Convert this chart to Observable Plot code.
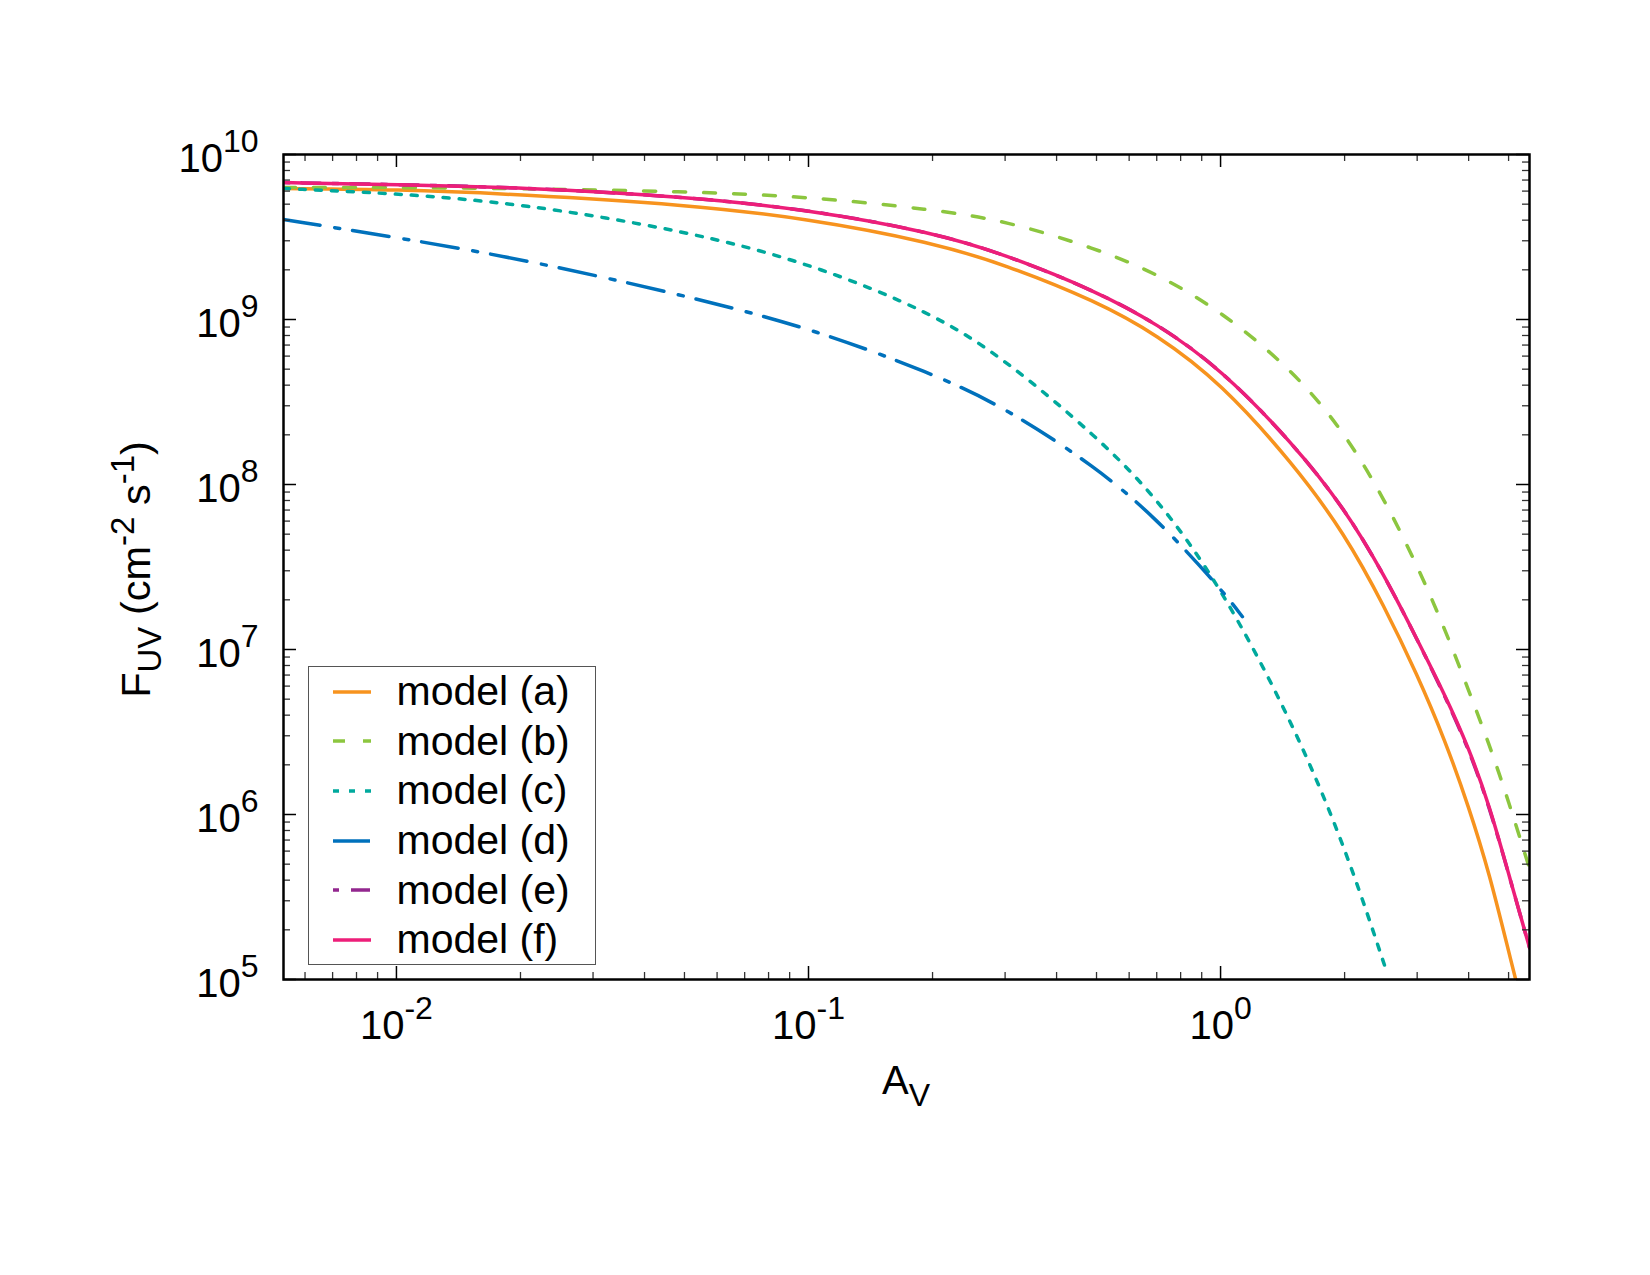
<!DOCTYPE html>
<html>
<head>
<meta charset="utf-8">
<script src="https://cdn.jsdelivr.net/npm/d3@7"></script>
<script src="https://cdn.jsdelivr.net/npm/@observablehq/plot@0.6"></script>
<style>
  html, body { margin: 0; padding: 0; background: #fff; }
  #wrap { position: relative; width: 1650px; height: 1275px;
          font-family: "Liberation Sans", Arial, Helvetica, sans-serif; }
  #legend { position: absolute; left: 308px; top: 666px; width: 288px; height: 299px;
            box-sizing: border-box; border: 1.5px solid #555; background: #fff; }
  #legend .row { display: flex; align-items: center; height: 49.6px; }
  #legend svg { margin-left: 23.5px; flex: none; }
  #legend span { margin-left: 26px; font-size: 41px; color: #000; white-space: pre; }
  text { white-space: pre; }
</style>
</head>
<body>
<div id="wrap"></div>
<script>
// Visual extinction A_V and UV flux F_UV (cm^-2 s^-1) for six models
const avA = [0.00532, 0.01, 0.02, 0.05, 0.1, 0.2, 0.3, 0.5, 0.7, 1.0, 1.5, 2.0, 2.5, 3.0, 3.5, 4.0, 4.5, 5.0, 5.62];
const fluxA = [6.22e9, 6.14e9, 5.73e9, 4.98e9, 4.09e9, 2.93e9, 2.15e9, 1.29e9, 8.11e8, 4.15e8, 1.34e8, 5.05e7, 1.82e7, 7.05e6, 2.85e6, 1.12e6, 4.33e5, 1.48e5, 4.64e4];

const avB = [0.00532, 0.01, 0.02, 0.05, 0.1, 0.2, 0.3, 0.5, 0.7, 1.0, 1.5, 2.0, 2.5, 3.0, 3.5, 4.0, 4.5, 5.0, 5.62];
const fluxB = [6.31e9, 6.31e9, 6.22e9, 5.97e9, 5.56e9, 4.64e9, 3.98e9, 2.69e9, 1.90e9, 1.13e9, 4.91e8, 2.07e8, 8.11e7, 3.23e7, 1.34e7, 5.65e6, 2.62e6, 1.20e6, 4.71e5];

const avC = [0.00532, 0.01, 0.02, 0.05, 0.1, 0.2, 0.3, 0.5, 0.7, 1.0, 1.5, 2.0, 2.5];
const fluxC = [6.22e9, 5.81e9, 5.05e9, 3.46e9, 2.21e9, 1.10e9, 5.73e8, 1.96e8, 8.34e7, 2.44e7, 3.56e6, 6.49e5, 1.22e5];

const avD = [0.00532, 0.01, 0.02, 0.05, 0.1, 0.2, 0.3, 0.5, 0.7, 1.0, 1.13];
const fluxD = [4.04e9, 3.14e9, 2.34e9, 1.40e9, 8.96e8, 4.71e8, 2.93e8, 1.27e8, 6.22e7, 2.35e7, 1.58e7];

const avE = [0.00532, 0.01, 0.02, 0.05, 0.1, 0.2, 0.3, 0.5, 0.7, 1.0, 1.5, 2.0, 2.5, 3.0, 3.5, 4.0, 4.5, 5.0, 5.62];
const fluxE = [6.76e9, 6.58e9, 6.31e9, 5.56e9, 4.64e9, 3.37e9, 2.48e9, 1.48e9, 9.46e8, 5.05e8, 1.77e8, 7.16e7, 2.81e7, 1.15e7, 5.25e6, 2.50e6, 1.10e6, 4.38e5, 1.56e5];

const avF = [0.00532, 0.01, 0.02, 0.05, 0.1, 0.2, 0.3, 0.5, 0.7, 1.0, 1.5, 2.0, 2.5, 3.0, 3.5, 4.0, 4.5, 5.0, 5.62];
const fluxF = [6.76e9, 6.58e9, 6.31e9, 5.56e9, 4.64e9, 3.37e9, 2.48e9, 1.48e9, 9.46e8, 5.05e8, 1.77e8, 7.16e7, 2.81e7, 1.15e7, 5.33e6, 2.55e6, 1.12e6, 4.38e5, 1.56e5];

const modelNames = ["model (a)", "model (b)", "model (c)", "model (d)", "model (e)", "model (f)"];
const modelColors = ["#f7931e", "#8cc63f", "#00a99d", "#0071bc", "#93278f", "#ed1e79"];
const modelDashes = [null, "12,18", "6,10", "37,15,5,13", "6,12,19,12", null];

// axis ticks
const majorX = [0.01, 0.1, 1];
const minorX = [0.006, 0.007, 0.008, 0.009,
                0.02, 0.03, 0.04, 0.05, 0.06, 0.07, 0.08, 0.09,
                0.2, 0.3, 0.4, 0.5, 0.6, 0.7, 0.8, 0.9,
                2, 3, 4, 5];
const majorY = [1e5, 1e6, 1e7, 1e8, 1e9, 1e10];
const minorY = [];
for (const d of [1e5, 1e6, 1e7, 1e8, 1e9]) for (let m = 2; m <= 9; m++) minorY.push(m * d);

const W = 1650, H = 1275;
const mL = 283, mR = 121, mT = 154, mB = 296;
const frameW = W - mL - mR, frameH = H - mT - mB;
const majorLen = 13, minorLen = 7;
const font = "'Liberation Sans', Arial, Helvetica, sans-serif";

const series = [
  {av: avA, flux: fluxA}, {av: avB, flux: fluxB}, {av: avC, flux: fluxC},
  {av: avD, flux: fluxD}, {av: avE, flux: fluxE}, {av: avF, flux: fluxF}
];

const lineMarks = series.map((s, i) => Plot.line(
  s.av.map((a, j) => ({av: a, flux: s.flux[j], model: modelNames[i]})),
  {x: "av", y: "flux", stroke: modelColors[i], strokeWidth: 3.5,
   strokeDasharray: modelDashes[i], curve: "basis", clip: true}
));

const tickMarks = [
  // bottom and top
  Plot.tickX(majorX, {x: d => d, stroke: "#000", strokeWidth: 1.5, insetTop: frameH - majorLen}),
  Plot.tickX(majorX, {x: d => d, stroke: "#000", strokeWidth: 1.5, insetBottom: frameH - majorLen}),
  Plot.tickX(minorX, {x: d => d, stroke: "#333", strokeWidth: 1.3, insetTop: frameH - minorLen}),
  Plot.tickX(minorX, {x: d => d, stroke: "#333", strokeWidth: 1.3, insetBottom: frameH - minorLen}),
  // left and right
  Plot.tickY(majorY, {y: d => d, stroke: "#000", strokeWidth: 1.5, insetRight: frameW - majorLen}),
  Plot.tickY(majorY, {y: d => d, stroke: "#000", strokeWidth: 1.5, insetLeft: frameW - majorLen}),
  Plot.tickY(minorY, {y: d => d, stroke: "#333", strokeWidth: 1.3, insetRight: frameW - minorLen}),
  Plot.tickY(minorY, {y: d => d, stroke: "#333", strokeWidth: 1.3, insetLeft: frameW - minorLen})
];

const expo = d => String(Math.round(Math.log10(d)));

const chart = Plot.plot({
  width: W,
  height: H,
  marginLeft: mL,
  marginRight: mR,
  marginTop: mT,
  marginBottom: mB,
  style: {fontFamily: font, fontSize: "40px", color: "#000", background: "#fff", overflow: "visible"},
  x: {type: "log", domain: [0.00532, 5.62], label: null},
  y: {type: "log", domain: [1e5, 1e10], label: null},
  marks: [
    ...lineMarks,
    ...tickMarks,
    Plot.frame({stroke: "#000", strokeWidth: 2.5}),
    Plot.axisX(majorX, {tickSize: 0, tickPadding: 31, tickFormat: expo, fontSize: 40, label: null}),
    Plot.axisY(majorY, {tickSize: 0, tickPadding: 25, tickFormat: expo, fontSize: 40, dy: 5, label: null})
  ]
});

const svg = d3.select(chart);

// tick labels as powers of ten with a raised exponent
svg.selectAll('[aria-label="x-axis tick label"] text, [aria-label="y-axis tick label"] text').each(function () {
  const e = this.textContent;
  const t = d3.select(this);
  t.text(null);
  t.append("tspan").text("10");
  t.append("tspan").attr("dy", -20).attr("font-size", 32).text(e);
});

// x-axis title: A_V
const xl = svg.append("text")
  .attr("x", mL + frameW / 2).attr("y", 1094)
  .attr("text-anchor", "middle").attr("font-size", 40).attr("fill", "#000");
xl.append("tspan").text("A");
xl.append("tspan").attr("dy", 12).attr("font-size", 32).text("V");

// y-axis title: F_UV (cm^-2 s^-1)
const yl = svg.append("text")
  .attr("transform", `translate(150,${mT + frameH / 2 + 3}) rotate(-90)`)
  .attr("text-anchor", "middle").attr("font-size", 41.5).attr("fill", "#000");
yl.append("tspan").text("F");
yl.append("tspan").attr("dy", 11).attr("font-size", 33).text("UV");
yl.append("tspan").attr("dy", -11).text(" (cm");
yl.append("tspan").attr("dy", -16).attr("font-size", 33).text("-2");
yl.append("tspan").attr("dy", 16).text(" s");
yl.append("tspan").attr("dy", -16).attr("font-size", 33).text("-1");
yl.append("tspan").attr("dy", 16).text(")");

const wrap = document.getElementById("wrap");
wrap.appendChild(chart);

// legend box inside the frame
const legend = d3.select(wrap).append("div").attr("id", "legend");
modelNames.forEach((name, i) => {
  const row = legend.append("div").attr("class", "row");
  const s = row.append("svg").attr("width", 38).attr("height", 10);
  s.append("line").attr("x1", 0).attr("x2", 38).attr("y1", 5).attr("y2", 5)
    .attr("stroke", modelColors[i]).attr("stroke-width", 3.5)
    .attr("stroke-dasharray", modelDashes[i]);
  row.append("span").text(name);
});
</script>
</body>
</html>
